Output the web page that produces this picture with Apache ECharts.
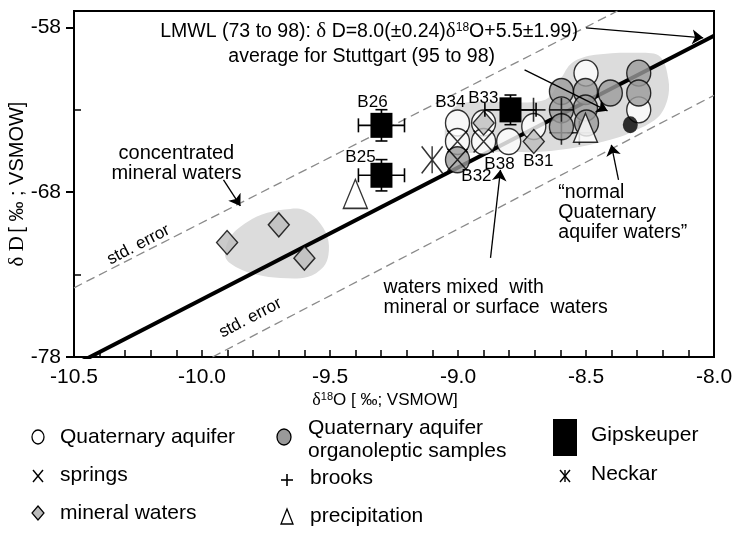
<!DOCTYPE html>
<html><head><meta charset="utf-8">
<script src="https://cdn.jsdelivr.net/npm/echarts@6/dist/echarts.min.js"></script>
<style>html,body{margin:0;padding:0;background:#fff}#c{width:745px;height:538px}</style>
</head><body><div id="c"></div>
<script>
// ---------- data (δ18O, δD) ----------
const xTickLabels = [-10.5, -10.0, -9.5, -9.0, -8.5, -8.0];
const yMajorTicks = [-78, -68, -58];
const yMinorTicks = [-73, -63];

const quatAquifer = [[-8.500,-60.77],[-8.294,-63.00],[-9.002,-63.80],[-8.900,-63.80],[-8.900,-64.92],[-8.802,-64.92],[-8.704,-64.01],[-9.002,-64.92]];
const quatOrgano = [[-8.596,-61.89],[-8.596,-63.00],[-8.596,-64.03],[-8.502,-61.89],[-8.502,-62.89],[-8.498,-63.80],[-8.405,-61.98],[-8.294,-60.77],[-8.294,-61.98],[-9.002,-66.03]];
const mineralWaters = [[-9.902,-71.05],[-9.700,-69.98],[-9.600,-72.00],[-8.900,-63.80],[-8.704,-64.92]];
const springs = [[-9.002,-64.92],[-8.900,-64.92],[-9.002,-66.03]];
const neckar = [[-9.101,-66.03]];
const brooks = [[-8.705,-63.00],[-8.596,-63.00]];
const brooksHidden = [[-8.596,-64.39],[-8.526,-64.39]];
const precipitation = [[-9.401,-68.10],[-8.502,-64.09]];
const stuttgartAvg = [[-8.327,-63.91]];
// Gipskeuper: x, y, x-error, y-error
const gipskeuper = [[-9.299,-63.94,0.09,0.95],[-9.299,-66.97,0.09,0.95],[-8.795,-63.00,0.10,0.90]];

const lmwl = [[-10.5,-78.5],[-8.0,-58.5]];
const stdErrUpper = [[-10.5,-73.8],[-8.377,-57.0]];
const stdErrLower = [[-9.959,-78.0],[-8.0,-62.12]];

const blobMineral = [[-9.909,-71.92],[-9.889,-70.71],[-9.823,-69.80],[-9.745,-69.25],[-9.655,-69.01],[-9.604,-69.07],[-9.549,-69.68],[-9.510,-70.71],[-9.506,-71.80],[-9.526,-72.53],[-9.588,-73.14],[-9.694,-73.20],[-9.784,-73.01],[-9.862,-72.59]];
const blobQuat = [[-9.041,-65.43],[-9.045,-63.60],[-8.991,-62.63],[-8.834,-62.51],[-8.659,-62.39],[-8.601,-61.18],[-8.554,-60.14],[-8.464,-59.66],[-8.288,-59.54],[-8.210,-59.78],[-8.178,-61.18],[-8.182,-62.39],[-8.221,-63.48],[-8.327,-64.39],[-8.405,-64.82],[-8.522,-65.24],[-8.678,-65.55],[-8.834,-65.55],[-8.991,-65.61]];

// arrows: [start, end]
const arrows = [
  [[-8.500,-58.02],[-8.042,-58.63]],
  [[-8.740,-60.57],[-8.416,-63.06]],
  [[-9.916,-67.25],[-9.850,-68.83]],
  [[-8.873,-71.98],[-8.834,-66.64]],
  [[-8.373,-67.25],[-8.401,-65.12]]
];

const sampleLabels = ['B26','B25','B34','B33','B38','B31','B32'];
const sampleLabelPos = [[-9.334,-62.57],[-9.381,-65.91],[-9.030,-62.57],[-8.901,-62.27],[-8.838,-66.28],[-8.686,-66.15],[-8.928,-67.06]];

const noteTexts = [
  '{s|LMWL (73 to 98): }{g|δ}{s| D=8.0(±0.24)}{g|δ}{sup|18}{s|O+5.5±1.99)}',
  'average for Stuttgart (95 to 98)',
  'concentrated\nmineral waters',
  'std. error',
  'std. error',
  'waters mixed  with\nmineral or surface  waters',
  '“normal\nQuaternary\naquifer waters”'
];
const notePos = [[-10.163,-58.26],[-9.897,-59.78],[-10.100,-66.28],[-10.248,-71.19],[-9.811,-75.63],[-9.291,-74.38],[-8.608,-69.25]];
const noteAlign = ['left','left','center','center','center','left','left'];
const noteRot = [0,0,0,27.5,27.5,0,0];
const noteSize = [19.5,19.5,20,17,17,19.5,19.5];

// ---------- chart ----------
const SANS = '"Liberation Sans", Arial, Helvetica, sans-serif';
const SERIF = '"Liberation Serif", "Times New Roman", serif';
const chart = echarts.init(document.getElementById('c'), null, {renderer:'canvas'});

function polySeries(pts, color) {
  return {type:'custom', silent:true, z:1, data:[pts[0]],
    renderItem:(p, api) => ({type:'polygon', shape:{points: pts.map(q => api.coord(q)), smooth:0.35}, style:{fill:color}})};
}
const outline = {borderColor:'#000', borderWidth:1.4};
const strokeOnly = {color:'rgba(0,0,0,0)', borderColor:'#000', borderWidth:1.6};
const LEG = '21px ' + SANS;

const option = {
  animation:false,
  backgroundColor:'#fff',
  grid:{left:74, right:31, top:11, bottom:181, show:true, borderColor:'#000', borderWidth:2, backgroundColor:'transparent', containLabel:false, outerBoundsMode:'none'},
  xAxis:{type:'value', min:-10.5, max:-8.0, interval:0.5,
    axisLine:{lineStyle:{color:'#000', width:2}},
    axisTick:{inside:true, length:7, lineStyle:{color:'#000', width:1.5}},
    minorTick:{show:true, splitNumber:5, length:7, lineStyle:{color:'#000', width:1.5}},
    splitLine:{show:false},
    axisLabel:{color:'#000', fontSize:21, fontFamily:SANS, margin:10, customValues:xTickLabels, formatter:v => v.toFixed(1)},
    name:'{g|δ}{sup|18}{s|O [ ‰; VSMOW]}', nameLocation:'middle', nameGap:34, nameMoveOverlap:false,
    nameTextStyle:{padding:[0,18,0,0], rich:{g:{fontFamily:SERIF, fontSize:18, color:'#000'}, sup:{fontFamily:SANS, fontSize:11, verticalAlign:'top', color:'#000'}, s:{fontFamily:SANS, fontSize:17, color:'#000'}}}
  },
  yAxis:[
    {type:'value', min:-78, max:-57, position:'left',
      axisLine:{lineStyle:{color:'#000', width:2}},
      axisTick:{inside:false, length:8, customValues:yMajorTicks, lineStyle:{color:'#000', width:2}},
      splitLine:{show:false},
      axisLabel:{color:'#000', fontSize:21, fontFamily:SANS, margin:13, customValues:yMajorTicks},
      name:'{g|δ D} {s|[ ‰ ; VSMOW]}', nameLocation:'middle', nameGap:46, nameMoveOverlap:false,
      nameTextStyle:{rich:{g:{fontFamily:SERIF, fontSize:21, color:'#000'}, s:{fontFamily:SANS, fontSize:20, color:'#000'}}}
    },
    {type:'value', min:-78, max:-57, position:'left',
      axisLine:{show:false},
      axisTick:{inside:true, length:7, customValues:yMinorTicks, lineStyle:{color:'#000', width:1.5}},
      splitLine:{show:false}, axisLabel:{show:false}
    }
  ],
  series:[
    polySeries(blobMineral, '#dcdcdc'),
    polySeries(blobQuat, '#dcdcdc'),
    {type:'line', data:stdErrUpper, symbol:'none', silent:true, z:2, lineStyle:{color:'#8a8a8a', width:1.3, type:[9,5]}},
    {type:'line', data:stdErrLower, symbol:'none', silent:true, z:2, lineStyle:{color:'#8a8a8a', width:1.3, type:[9,5]}},
    {type:'line', data:lmwl, symbol:'none', silent:true, z:2, lineStyle:{color:'#000', width:4}},
    {type:'scatter', name:'brooks hidden', data:brooksHidden, z:3, symbol:'path://M5,0L5,10M0,5L10,5', symbolSize:[24,24], itemStyle:strokeOnly},
    {type:'scatter', name:'Quaternary aquifer', data:quatAquifer, z:4, symbol:'circle', symbolSize:[24,26], itemStyle:Object.assign({color:'#fff'}, outline)},
    {type:'scatter', name:'organoleptic', data:quatOrgano, z:5, symbol:'circle', symbolSize:[24,26], itemStyle:Object.assign({color:'#9b9b9b'}, outline)},
    {type:'scatter', name:'stuttgart', data:stuttgartAvg, z:5, symbol:'circle', symbolSize:[15,17], itemStyle:{color:'#000'}},
    {type:'scatter', name:'mineral waters', data:mineralWaters, z:6, symbol:'diamond', symbolSize:[21,24], itemStyle:Object.assign({color:'#bdbdbd'}, outline)},
    {type:'scatter', name:'springs', data:springs, z:6, symbol:'path://M0,0L10,11M10,0L0,11', symbolSize:[20,22], itemStyle:strokeOnly},
    {type:'scatter', name:'Neckar', data:neckar, z:6, symbol:'path://M0,0L10,13M10,0L0,13M5,0L5,13', symbolSize:[21,27], itemStyle:strokeOnly},
    {type:'scatter', name:'brooks', data:brooks, z:6, symbol:'path://M5,0L5,10M0,5L10,5', symbolSize:[24,24], itemStyle:strokeOnly},
    {type:'scatter', name:'precipitation', data:precipitation, z:6, symbol:'triangle', symbolSize:[24,29], itemStyle:Object.assign({color:'#fff'}, outline)},
    {type:'custom', name:'Gipskeuper', z:7, data:gipskeuper, encode:{x:0, y:1},
      renderItem:(p, api) => {
        const x = api.value(0), y = api.value(1), ex = api.value(2), ey = api.value(3);
        const c = api.coord([x, y]);
        const l = api.coord([x-ex, y]), r = api.coord([x+ex, y]);
        const t = api.coord([x, y+ey]), b = api.coord([x, y-ey]);
        const ls = {stroke:'#000', lineWidth:1.6};
        const w = 22, h = 25;
        return {type:'group', children:[
          {type:'line', shape:{x1:l[0], y1:l[1], x2:r[0], y2:r[1]}, style:ls},
          {type:'line', shape:{x1:t[0], y1:t[1], x2:b[0], y2:b[1]}, style:ls},
          {type:'line', shape:{x1:l[0], y1:l[1]-7, x2:l[0], y2:l[1]+7}, style:ls},
          {type:'line', shape:{x1:r[0], y1:r[1]-7, x2:r[0], y2:r[1]+7}, style:ls},
          {type:'line', shape:{x1:t[0]-6, y1:t[1], x2:t[0]+6, y2:t[1]}, style:ls},
          {type:'line', shape:{x1:b[0]-6, y1:b[1], x2:b[0]+6, y2:b[1]}, style:ls},
          {type:'rect', shape:{x:c[0]-w/2, y:c[1]-h/2, width:w, height:h}, style:{fill:'#000'}}
        ]};
      }},
    {type:'lines', coordinateSystem:'cartesian2d', z:8, silent:true,
      data: arrows.map(a => ({coords:a})),
      symbol:['none','arrow'], symbolSize:11, lineStyle:{color:'#000', width:1.3, opacity:1}},
    {type:'custom', name:'sampleLabels', z:9, silent:true, data:sampleLabelPos,
      renderItem:(p, api) => {
        const c = api.coord([api.value(0), api.value(1)]);
        return {type:'text', x:c[0], y:c[1], style:{text:sampleLabels[p.dataIndex], fill:'#000', font:'17px ' + SANS, align:'center', verticalAlign:'middle'}};
      }},
    {type:'custom', name:'notes', z:9, silent:true, data:notePos,
      renderItem:(p, api) => {
        const i = p.dataIndex;
        const c = api.coord([api.value(0), api.value(1)]);
        const fs = noteSize[i];
        return {type:'text', x:c[0], y:c[1], rotation: noteRot[i] * Math.PI / 180,
          style:{text:noteTexts[i], fill:'#000', font:fs + 'px ' + SANS, align:noteAlign[i], verticalAlign:'middle', lineHeight:20,
            rich:{s:{fontFamily:SANS, fontSize:19.5, fill:'#000'}, g:{fontFamily:SERIF, fontSize:21, fill:'#000'}, sup:{fontFamily:SANS, fontSize:12, verticalAlign:'top', fill:'#000'}}}};
      }}
  ],
  graphic:[
    {type:'ellipse', shape:{cx:38, cy:437, rx:6, ry:7}, style:{fill:'#fff', stroke:'#000', lineWidth:1.3}},
    {type:'text', x:60, y:437, style:{text:'Quaternary aquifer', font:LEG, fill:'#000', verticalAlign:'middle'}},
    {type:'ellipse', shape:{cx:284, cy:437, rx:7, ry:8}, style:{fill:'#999', stroke:'#000', lineWidth:1.3}},
    {type:'text', x:308, y:428, style:{text:'Quaternary aquifer', font:LEG, fill:'#000', verticalAlign:'middle'}},
    {type:'text', x:308, y:451, style:{text:'organoleptic samples', font:LEG, fill:'#000', verticalAlign:'middle'}},
    {type:'rect', shape:{x:553, y:419, width:24, height:37}, style:{fill:'#000'}},
    {type:'text', x:591, y:435, style:{text:'Gipskeuper', font:LEG, fill:'#000', verticalAlign:'middle'}},
    {type:'polyline', shape:{points:[[33,470],[43,482]]}, style:{stroke:'#000', lineWidth:1.4}},
    {type:'polyline', shape:{points:[[43,470],[33,482]]}, style:{stroke:'#000', lineWidth:1.4}},
    {type:'text', x:60, y:475, style:{text:'springs', font:LEG, fill:'#000', verticalAlign:'middle'}},
    {type:'polyline', shape:{points:[[281,480],[293,480]]}, style:{stroke:'#000', lineWidth:1.6}},
    {type:'polyline', shape:{points:[[287,474],[287,486]]}, style:{stroke:'#000', lineWidth:1.6}},
    {type:'text', x:310, y:478, style:{text:'brooks', font:LEG, fill:'#000', verticalAlign:'middle'}},
    {type:'polyline', shape:{points:[[560,470],[570,482]]}, style:{stroke:'#000', lineWidth:1.4}},
    {type:'polyline', shape:{points:[[570,470],[560,482]]}, style:{stroke:'#000', lineWidth:1.4}},
    {type:'polyline', shape:{points:[[565,470],[565,482]]}, style:{stroke:'#000', lineWidth:1.4}},
    {type:'text', x:591, y:474, style:{text:'Neckar', font:LEG, fill:'#000', verticalAlign:'middle'}},
    {type:'polygon', shape:{points:[[38,506],[44,513],[38,520],[32,513]]}, style:{fill:'#bbb', stroke:'#000', lineWidth:1.2}},
    {type:'text', x:60, y:513, style:{text:'mineral waters', font:LEG, fill:'#000', verticalAlign:'middle'}},
    {type:'polygon', shape:{points:[[287,509],[293,524],[281,524]]}, style:{fill:'#fff', stroke:'#000', lineWidth:1.3}},
    {type:'text', x:310, y:516, style:{text:'precipitation', font:LEG, fill:'#000', verticalAlign:'middle'}}
  ]
};
chart.setOption(option);
</script>
</body></html>
